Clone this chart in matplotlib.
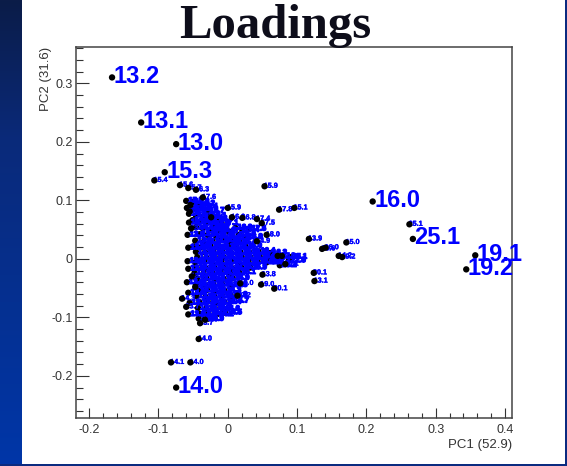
import numpy as np
import matplotlib
matplotlib.use("Agg")
import matplotlib.pyplot as plt
import matplotlib.patheffects as pe
from matplotlib.colors import LinearSegmentedColormap
from matplotlib.patches import Rectangle

# ---- data: PCA loadings (PC1, PC2) with their retention-time labels ----
# strongly loading variables, drawn with large labels
big_pc1 = [-0.167, -0.125, -0.0745, -0.091, -0.0745, 0.209, 0.267, 0.357, 0.344]
big_pc2 = [0.310, 0.233, 0.196, 0.148, -0.220, 0.098, 0.034, 0.006, -0.018]
big_labels = ["13.2", "13.1", "13.0", "15.3", "14.0", "16.0", "25.1", "19.1", "19.2"]

# isolated variables away from the central cluster
out_pc1 = [-0.106, -0.069, -0.057, -0.046, -0.036, -0.054, -0.055, 0.000, 0.021,
           0.053, 0.074, 0.096, 0.117, 0.136, 0.141, 0.171, 0.160, 0.165,
           0.124, 0.125, 0.050, 0.048, 0.067, 0.018, 0.014, 0.042, 0.056,
           0.072, 0.078, 0.083, -0.042, -0.082, -0.054, -0.033, -0.040,
           -0.066, -0.060, -0.052, -0.047, -0.053, 0.262, 0.006, -0.024,
           0.042, 0.049]
out_pc2 = [0.134, 0.126, 0.121, 0.118, 0.105, 0.092, 0.081, 0.087, 0.070,
           0.124, 0.084, 0.087, 0.034, 0.017, 0.019, 0.028, 0.005, 0.003,
           -0.024, -0.038, -0.027, -0.044, -0.051, -0.042, -0.063, 0.030, 0.041,
           0.005, 0.005, -0.009, -0.137, -0.177, -0.177, -0.104, -0.110,
           -0.068, -0.082, -0.030, -0.048, 0.052, 0.059, 0.071, 0.071,
           0.068, 0.061]
out_labels = ["15.4", "15.6", "15.7", "16.3", "17.6", "14.8", "14.6", "15.9", "16.8",
              "15.9", "17.8", "15.1", "13.9", "16.6", "16.0", "15.0", "14.2", "19.2",
              "20.1", "13.1", "13.8", "19.0", "20.1", "19.0", "20.2", "14.9", "18.0",
              "16.1", "12.8", "25.1", "14.0", "14.1", "14.0", "13.5", "13.7",
              "14.3", "13.7", "13.6", "14.5", "13.9", "25.1", "16.9", "16.5",
              "17.4", "17.5"]

# dense central cluster
core_pc1 = [
    # upper-left arm
    -0.060, -0.051, -0.043, -0.059, -0.049, -0.039, -0.029,
    -0.056, -0.046, -0.036, -0.026, -0.016,
    -0.051, -0.041, -0.031, -0.021, -0.009,
    -0.046, -0.036, -0.024, -0.013, 0.001,
    -0.041, -0.029, -0.017, -0.004, 0.009,
    # upper-right spur
    0.011, 0.021, 0.031, 0.016, 0.026,
    # left column
    -0.056, -0.058, -0.057, -0.058, -0.057, -0.059, -0.057, -0.055, -0.057,
    # body
    -0.047, -0.035, -0.022, -0.010, 0.004, 0.016,
    -0.050, -0.038, -0.025, -0.013, 0.000, 0.012, 0.025,
    -0.046, -0.033, -0.021, -0.008, 0.005, 0.018, 0.031, 0.044,
    -0.044, -0.031, -0.019, -0.006, 0.007, 0.020, 0.033, 0.046, 0.059, 0.090,
    -0.047, -0.034, -0.022, -0.009, 0.004, 0.017, 0.030, 0.043, 0.056,
    -0.045, -0.032, -0.020, -0.007, 0.006, 0.019, 0.032,
    -0.048, -0.035, -0.023, -0.010, 0.003, 0.016,
    -0.044, -0.031, -0.019, -0.006, 0.007,
    -0.046, -0.033, -0.021, -0.008, 0.004,
    -0.043, -0.030, -0.018, -0.005,
    -0.045, -0.032, -0.020, -0.008, 0.004,
    -0.041, -0.029, -0.017, -0.005, 0.006,
    -0.043, -0.031, -0.019, -0.007,
    -0.040, -0.028, -0.016, -0.004,
    -0.042, -0.030,
    # right arm
    0.066, 0.088, 0.061, 0.075,
]
core_pc2 = [
    0.099, 0.097, 0.094, 0.087, 0.085, 0.089, 0.082,
    0.077, 0.074, 0.072, 0.073, 0.068,
    0.066, 0.063, 0.061, 0.059, 0.061,
    0.054, 0.052, 0.050, 0.049, 0.047,
    0.042, 0.041, 0.039, 0.037, 0.035,
    0.053, 0.049, 0.051, 0.041, 0.037,
    0.062, 0.041, 0.019, -0.004, -0.017, -0.040, -0.058, -0.075, -0.095,
    0.031, 0.029, 0.030, 0.032, 0.028, 0.030,
    0.021, 0.020, 0.022, 0.019, 0.021, 0.020, 0.022,
    0.012, 0.011, 0.013, 0.012, 0.010, 0.012, 0.011, 0.013,
    0.003, 0.002, 0.004, 0.003, 0.001, 0.003, 0.002, 0.004, 0.002, 0.003,
    -0.006, -0.005, -0.007, -0.006, -0.005, -0.007, -0.006, -0.005, -0.006,
    -0.015, -0.016, -0.014, -0.015, -0.016, -0.014, -0.015,
    -0.024, -0.025, -0.023, -0.024, -0.025, -0.023,
    -0.034, -0.033, -0.035, -0.034, -0.033,
    -0.044, -0.045, -0.043, -0.044, -0.045,
    -0.054, -0.053, -0.055, -0.054,
    -0.064, -0.065, -0.063, -0.064, -0.062,
    -0.074, -0.073, -0.075, -0.074, -0.072,
    -0.084, -0.085, -0.083, -0.086,
    -0.094, -0.093, -0.095, -0.092,
    -0.102, -0.103,
    -0.004, -0.003, 0.010, -0.011,
]
core_labels = (
    "15.5 15.8 16.2 14.9 15.2 16.4 16.7 "
    "14.7 15.1 15.6 16.1 16.9 "
    "14.4 14.8 15.3 15.9 17.1 "
    "14.2 14.6 15.0 15.4 17.3 "
    "13.9 14.3 14.7 15.2 17.2 "
    "16.9 17.4 17.5 16.6 16.8 "
    "13.9 13.8 13.6 13.5 13.6 13.4 13.5 13.7 13.6 "
    "13.8 14.1 14.5 14.9 15.3 15.7 "
    "13.7 14.0 14.4 14.8 15.2 15.6 16.0 "
    "13.6 13.9 14.3 14.7 15.1 15.5 16.2 16.4 "
    "13.5 13.8 14.2 14.6 15.0 15.4 16.1 16.3 12.8 25.1 "
    "13.4 13.7 14.1 14.5 14.9 15.3 16.0 16.5 12.9 "
    "13.3 13.6 14.0 14.4 14.8 15.2 15.9 "
    "13.2 13.5 13.9 14.3 14.7 15.1 "
    "13.4 13.7 14.1 14.5 14.9 "
    "13.3 13.6 14.0 14.4 14.8 "
    "13.2 13.5 13.9 14.3 "
    "13.4 13.7 14.1 14.5 14.8 "
    "13.3 13.6 14.0 14.4 14.7 "
    "13.5 13.8 14.2 14.6 "
    "13.4 13.7 14.1 14.5 "
    "13.6 13.9 "
    "12.7 22.8 16.3 25.2"
).split()

xtick_vals = [-0.2, -0.1, 0.0, 0.1, 0.2, 0.3, 0.4]
xtick_labels = ["-0.2", "-0.1", "0", "0.1", "0.2", "0.3", "0.4"]
ytick_vals = [-0.2, -0.1, 0.0, 0.1, 0.2, 0.3]
ytick_labels = ["-0.2", "-0.1", "0", "0.1", "0.2", "0.3"]

# ---- figure ----
W, H, DPI = 567, 466, 100
fig = plt.figure(figsize=(W / DPI, H / DPI), dpi=DPI)
fig.patch.set_facecolor("white")

# slide decoration: blue gradient band at the left, navy border lines
band = fig.add_axes([0, 0, 22 / W, 1])
cmap = LinearSegmentedColormap.from_list(
    "slide", [(0.0, "#0b1c48"), (0.3, "#0a2a7a"), (1.0, "#0036a8")])
band.imshow(np.linspace(0, 1, 256)[:, None], aspect="auto", cmap=cmap,
            extent=[0, 1, 1, 0])
band.set_axis_off()
fig.add_artist(Rectangle((564.5 / W, 0), 2.5 / W, 1, transform=fig.transFigure,
                         facecolor="#0b2b80", edgecolor="none"))
fig.add_artist(Rectangle((0, 0), 1, 2.5 / H, transform=fig.transFigure,
                         facecolor="#0b2b80", edgecolor="none"))

ax = fig.add_axes([76 / W, 1 - 418 / H, (512 - 76) / W, (418 - 47) / H])
ax.set_xlim(-0.219, 0.410)
ax.set_ylim(-0.272, 0.362)

BLUE = "#0000ff"
label_kw = dict(color=BLUE, fontweight="bold", family="Liberation Sans",
                va="center", ha="left", annotation_clip=False)
heavy = [pe.withStroke(linewidth=1.0, foreground=BLUE)]
light = [pe.withStroke(linewidth=0.25, foreground=BLUE)]

# central cluster: markers underneath, the crowded labels on top
ax.scatter(core_pc1, core_pc2, s=21, color="black", edgecolors="none", zorder=2)
for x, y, t in zip(core_pc1, core_pc2, core_labels):
    ax.annotate(t, (x, y), xytext=(1.6, 0), textcoords="offset points",
                fontsize=5.4, zorder=3, path_effects=heavy, **label_kw)

# isolated small labels: label first, its marker on top of it
for x, y, t in zip(out_pc1, out_pc2, out_labels):
    ax.annotate(t, (x, y), xytext=(-0.6, 0), textcoords="offset points",
                fontsize=5.2, zorder=4, path_effects=light, **label_kw)
ax.scatter(out_pc1, out_pc2, s=21, color="black", edgecolors="none", zorder=5)

# large labels for the strongest loadings
ax.scatter(big_pc1, big_pc2, s=21, color="black", edgecolors="none", zorder=6)
for x, y, t in zip(big_pc1, big_pc2, big_labels):
    ax.annotate(t, (x, y), xytext=(1.0, 0.8), textcoords="offset points",
                fontsize=17, zorder=7, **label_kw)

# ROOT-like axes: inward ticks on bottom/left only
ax.set_xticks(xtick_vals, labels=xtick_labels)
ax.set_yticks(ytick_vals, labels=ytick_labels)
ax.set_xticks(np.arange(-0.2, 0.41, 0.02), minor=True)
ax.set_yticks(np.arange(-0.26, 0.361, 0.02), minor=True)
ax.tick_params(axis="x", which="major", direction="in", length=7.2, width=0.8,
               color="#333333", pad=4, labelsize=9, labelcolor="#333333")
ax.tick_params(axis="x", which="minor", direction="in", length=3.6, width=0.8,
               color="#333333")
ax.tick_params(axis="y", which="major", direction="in", length=9.5, width=0.8,
               color="#333333", pad=2.5, labelsize=9, labelcolor="#333333")
ax.tick_params(axis="y", which="minor", direction="in", length=5, width=0.8,
               color="#333333")
for lab in ax.get_xticklabels() + ax.get_yticklabels():
    lab.set_family("Liberation Sans")
for sp in ax.spines.values():
    sp.set_linewidth(1.1)
    sp.set_color("#444444")

fig.text(512 / W, 1 - 445 / H, "PC1 (52.9)", ha="right", va="center",
         fontsize=9.5, family="Liberation Sans", color="#333333")
fig.text(46 / W, 1 - 47 / H, "PC2 (31.6)", ha="center", va="top", rotation=90,
         fontsize=9.5, family="Liberation Sans", color="#333333")

fig.text(275 / W, 1 - 38 / H, "Loadings", ha="center", va="baseline",
         fontsize=35, fontweight="bold", family="Liberation Serif",
         color="#0d0d1a", zorder=10)

fig.savefig("out.png", dpi=DPI, facecolor=fig.get_facecolor())
